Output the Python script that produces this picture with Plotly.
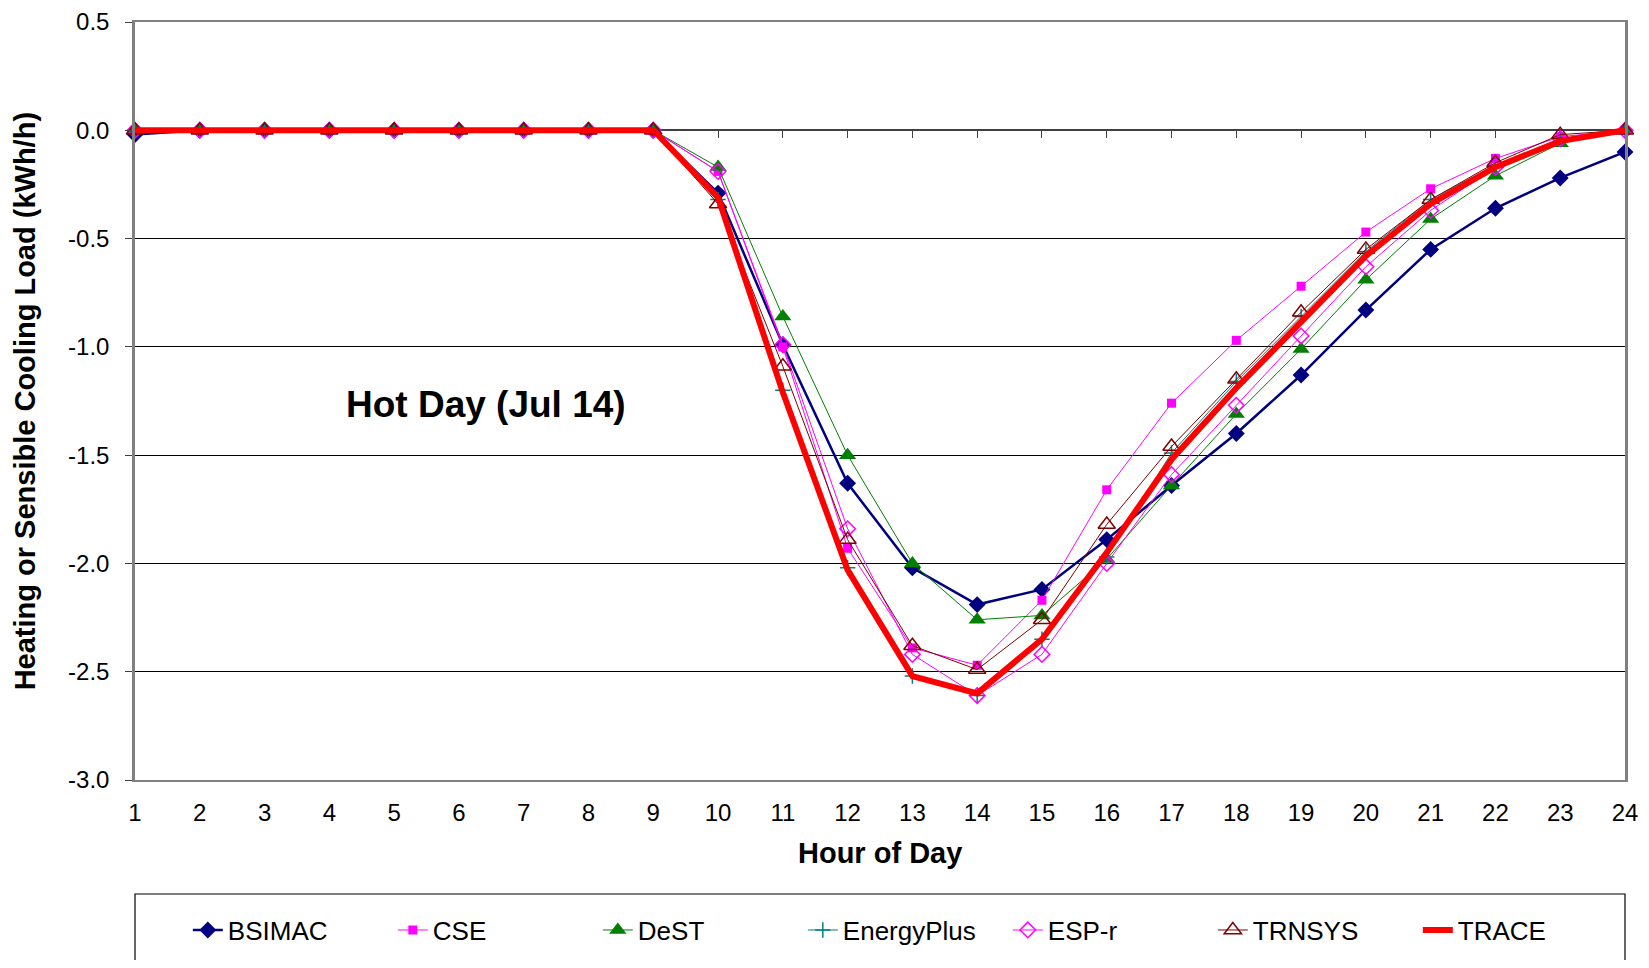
import plotly.graph_objects as go

hours = list(range(1, 25))
x_tick_labels = [str(h) for h in hours]
y_tick_values = [0.5, 0.0, -0.5, -1.0, -1.5, -2.0, -2.5, -3.0]
y_tick_labels = ["0.5", "0.0", "-0.5", "-1.0", "-1.5", "-2.0", "-2.5", "-3.0"]

bsimac = [-0.02, 0, 0, 0, 0, 0, 0, 0, 0, -0.29, -0.99, -1.63, -2.02, -2.19, -2.12, -1.89,
          -1.64, -1.40, -1.13, -0.83, -0.55, -0.36, -0.22, -0.10]
cse = [0, 0, 0, 0, 0, 0, 0, 0, 0, -0.19, -1.00, -1.93, -2.39, -2.47, -2.17, -1.66,
       -1.26, -0.97, -0.72, -0.47, -0.27, -0.13, -0.03, 0]
dest = [0, 0, 0, 0, 0, 0, 0, 0, 0, -0.17, -0.86, -1.50, -2.00, -2.26, -2.24, -1.98,
        -1.64, -1.31, -1.01, -0.69, -0.41, -0.21, -0.06, 0]
energyplus = [0, 0, 0, 0, 0, 0, 0, 0, 0, -0.32, -1.20, -2.02, -2.52, -2.61, -2.35, -1.97,
              -1.49, -1.16, -0.86, -0.56, -0.32, -0.16, -0.04, 0]
espr = [0, 0, 0, 0, 0, 0, 0, 0, 0, -0.19, -0.99, -1.84, -2.42, -2.61, -2.42, -2.00,
        -1.59, -1.27, -0.95, -0.63, -0.37, -0.17, -0.04, 0]
trnsys = [0, 0, 0, 0, 0, 0, 0, 0, 0, -0.34, -1.09, -1.89, -2.38, -2.49, -2.26, -1.82,
          -1.46, -1.15, -0.84, -0.55, -0.32, -0.15, -0.02, 0]
trace = [0, 0, 0, 0, 0, 0, 0, 0, 0, -0.31, -1.21, -2.03, -2.52, -2.60, -2.35, -1.95,
         -1.52, -1.19, -0.88, -0.58, -0.34, -0.17, -0.05, 0]

FONT = "Liberation Sans, Arial, sans-serif"

series = [
    ("BSIMAC", bsimac, dict(color="#000080", width=2.5),
     dict(symbol="diamond", size=13, color="#000080")),
    ("CSE", cse, dict(color="#FF00FF", width=1),
     dict(symbol="square", size=9, color="#FF00FF")),
    ("DeST", dest, dict(color="#008000", width=1),
     dict(symbol="triangle-up", size=15, color="#008000")),
    ("EnergyPlus", energyplus, dict(color="#008080", width=1),
     dict(symbol="cross-thin", size=11, color="#008080", line=dict(color="#008080", width=1.5))),
    ("ESP-r", espr, dict(color="#FF00FF", width=1),
     dict(symbol="diamond-open", size=12, color="#FF00FF", line=dict(color="#FF00FF", width=1.5))),
    ("TRNSYS", trnsys, dict(color="#800000", width=1),
     dict(symbol="triangle-up-open", size=15, color="#800000", line=dict(color="#800000", width=1.5))),
]

fig = go.Figure()
for name, vals, line, marker in series:
    fig.add_trace(go.Scatter(x=hours, y=vals, name=name, mode="lines+markers",
                             line=line, marker=marker, cliponaxis=False))
fig.add_trace(go.Scatter(x=hours, y=trace, name="TRACE", mode="lines",
                         line=dict(color="#FF0000", width=6), cliponaxis=False))

# invisible trace to host the zero-crossing category axis
fig.add_trace(go.Scatter(x=[hours[0], hours[-1]], y=[0, 0], xaxis="x2", mode="lines",
                         line=dict(width=0), showlegend=False, hoverinfo="skip"))

fig.update_layout(
    width=1633, height=952,
    margin=dict(l=127, r=16, t=14, b=180, autoexpand=False),
    plot_bgcolor="white", paper_bgcolor="white",
    font=dict(family=FONT, size=22, color="black"),
    showlegend=True,
    legend=dict(orientation="h", x=0.517, xanchor="center", y=-0.198, yanchor="middle",
                font=dict(family=FONT, size=26), entrywidth=160, entrywidthmode="pixels",
                bgcolor="rgba(0,0,0,0)", borderwidth=0),
    xaxis=dict(range=[1, 24], tickvals=hours, ticktext=x_tick_labels, showgrid=False,
               zeroline=False, showline=True, linecolor="#808080", linewidth=2, mirror=True,
               ticks="", ticklabelstandoff=10, tickfont=dict(size=24), automargin=False,
               ticklabeloverflow="allow"),
    xaxis2=dict(range=[1, 24], overlaying="x", anchor="free", position=3 / 3.5,
                tickvals=hours, showticklabels=False, ticks="outside", ticklen=7,
                tickcolor="#404040", showline=True, linecolor="#404040", linewidth=1.5,
                showgrid=False, zeroline=False, layer="below traces", automargin=False),
    yaxis=dict(range=[-3, 0.5], tickvals=y_tick_values, ticktext=y_tick_labels,
               showgrid=True, gridcolor="#000000", gridwidth=1, zeroline=False,
               showline=True, linecolor="#808080", linewidth=2.5, mirror=True,
               ticks="outside", ticklen=7, tickcolor="#404040", ticklabelstandoff=11,
               tickfont=dict(size=24), automargin=False, ticklabeloverflow="allow"),
    shapes=[dict(type="rect", xref="paper", yref="paper", x0=0, x1=1, y0=-0.30, y1=-0.1504,
                 line=dict(color="black", width=1.2), fillcolor="rgba(0,0,0,0)")],
    annotations=[
        dict(text="<b>Hot Day (Jul 14)</b>", x=6.42, y=-1.264, xref="x", yref="y",
             showarrow=False, font=dict(size=37), xanchor="center", yanchor="middle"),
        dict(text="<b>Hour of Day</b>", x=0.5, y=-0.0963, xref="paper", yref="paper",
             showarrow=False, font=dict(size=29), xanchor="center", yanchor="middle"),
        dict(text="<b>Heating or Sensible Cooling Load (kWh/h)</b>", x=-0.0736, y=0.5,
             xref="paper", yref="paper", textangle=-90, showarrow=False,
             font=dict(size=29), xanchor="center", yanchor="middle"),
    ],
)

fig.write_html("out.html")
